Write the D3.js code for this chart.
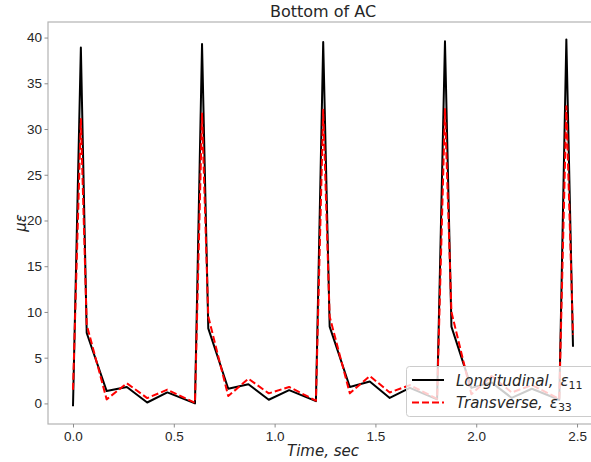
<!DOCTYPE html>
<html>
<head>
<meta charset="utf-8">
<script src="https://cdn.jsdelivr.net/npm/d3@7"></script>
<style>
  body { margin: 0; background: #fff; }
  svg { font-family: "DejaVu Sans", sans-serif; }
  .tick text { fill: #262626; font-size: 13.5px; }
  .tick line { stroke: #8c8c8c; }
</style>
</head>
<body>
<svg id="chart" width="591" height="462"></svg>
<script>
const time = [0.0, 0.039, 0.068, 0.167, 0.267, 0.368, 0.468, 0.605,
    0.640, 0.671, 0.770, 0.870, 0.971, 1.072, 1.205,
    1.241, 1.273, 1.373, 1.472, 1.571, 1.671, 1.806,
    1.845, 1.877, 1.976, 2.076, 2.176, 2.276, 2.412,
    2.447, 2.480]
const longitudinal = [-0.3, 38.9, 7.7, 1.35, 1.8, 0.1, 1.2, 0.0,
    39.3, 8.2, 1.6, 2.1, 0.4, 1.45, 0.25,
    39.5, 8.4, 1.8, 2.4, 0.6, 1.7, 0.45,
    39.6, 8.4, 1.7, 2.3, 0.6, 1.6, 0.4,
    39.8, 6.2]
const transverse = [1.5, 31.1, 8.6, 0.44, 2.2, 0.58, 1.5, 0.07,
    31.7, 9.5, 0.8, 2.7, 1.1, 1.8, 0.3,
    32.1, 9.5, 1.1, 3.0, 1.2, 2.0, 0.5,
    32.2, 10.0, 1.0, 3.0, 1.2, 2.0, 0.5,
    32.5, 7.5]
const xTicks = [0.0, 0.5, 1.0, 1.5, 2.0, 2.5]
const yTicks = [0, 5, 10, 15, 20, 25, 30, 35, 40]

const width = 591, height = 462
const margin = {left: 48, top: 22, right: 598, bottom: 424}

const svg = d3.select("#chart")
const x = d3.scaleLinear([-0.124, 2.604], [margin.left, margin.right])
const y = d3.scaleLinear([-2.25, 41.7], [margin.bottom, margin.top])

// frame
svg.append("rect")
    .attr("x", margin.left).attr("y", margin.top)
    .attr("width", margin.right - margin.left).attr("height", margin.bottom - margin.top)
    .attr("fill", "none").attr("stroke", "#b3b3b3").attr("stroke-width", 1.2)

const xAxis = svg.append("g")
    .attr("transform", `translate(0, ${margin.bottom})`)
    .call(d3.axisBottom(x).tickValues(xTicks).tickFormat(d3.format(".1f")).tickSize(3.5).tickPadding(4))
xAxis.select(".domain").remove()

const yAxis = svg.append("g")
    .attr("transform", `translate(${margin.left}, 0)`)
    .call(d3.axisLeft(y).tickValues(yTicks).tickSize(3.5).tickPadding(2.5))
yAxis.select(".domain").remove()

svg.append("clipPath").attr("id", "plot")
    .append("rect")
    .attr("x", margin.left).attr("y", margin.top)
    .attr("width", margin.right - margin.left).attr("height", margin.bottom - margin.top)

const series = [
    {name: "Longitudinal", sub: "11", values: longitudinal, color: "#000", dash: null},
    {name: "Transverse", sub: "33", values: transverse, color: "#ff0000", dash: "7,3"},
]

const line = d3.line()

const lines = svg.append("g").attr("clip-path", "url(#plot)")
series.forEach(s => {
    lines.append("path")
        .attr("d", line(time.map((t, i) => [x(t), y(s.values[i])])))
        .attr("fill", "none")
        .attr("stroke", s.color)
        .attr("stroke-width", 2)
        .attr("stroke-linejoin", "round")
        .attr("stroke-dasharray", s.dash)
})

// title
svg.append("text")
    .attr("x", (margin.left + margin.right) / 2)
    .attr("y", 17)
    .attr("text-anchor", "middle")
    .attr("font-size", 16)
    .attr("fill", "#262626")
    .text("Bottom of AC")

svg.append("text")
    .attr("x", (margin.left + margin.right) / 2)
    .attr("y", 456)
    .attr("text-anchor", "middle")
    .attr("font-size", 15)
    .attr("font-style", "italic")
    .attr("fill", "#262626")
    .text("Time, sec")

svg.append("text")
    .attr("transform", `translate(26, ${(margin.top + margin.bottom) / 2}) rotate(-90)`)
    .attr("text-anchor", "middle")
    .attr("font-size", 15)
    .attr("font-style", "italic")
    .attr("fill", "#262626")
    .text("με")

// legend
const legend = svg.append("g")
legend.append("rect")
    .attr("x", 406.5).attr("y", 366.5)
    .attr("width", 200).attr("height", 50)
    .attr("rx", 3)
    .attr("fill", "#fff").attr("fill-opacity", 0.8)
    .attr("stroke", "#cccccc")

series.forEach((s, i) => {
    const ly = 380 + i * 22.5
    legend.append("line")
        .attr("x1", 412).attr("x2", 444)
        .attr("y1", ly).attr("y2", ly)
        .attr("stroke", s.color).attr("stroke-width", 2)
        .attr("stroke-dasharray", s.dash)
    const t = legend.append("text")
        .attr("x", 456).attr("y", ly + 5.5)
        .attr("font-size", 15)
        .attr("fill", "#262626")
    t.append("tspan").attr("font-style", "italic").text(s.name + ",")
    t.append("tspan").attr("font-style", "italic").attr("dx", 7).text("ε")
    t.append("tspan").attr("font-size", 11).attr("dy", 3).text(s.sub)
})
</script>
</body>
</html>
